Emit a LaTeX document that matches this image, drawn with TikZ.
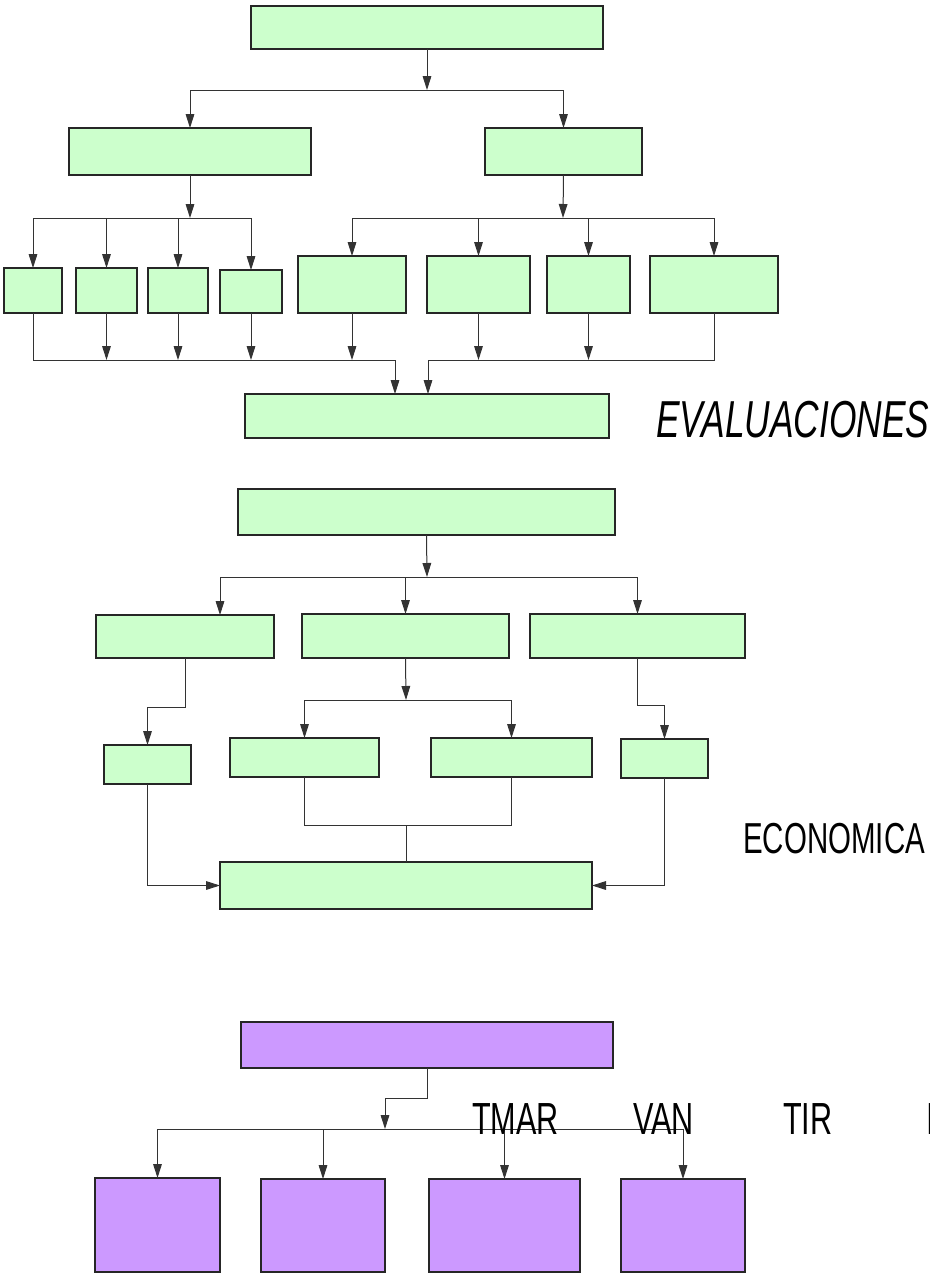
\documentclass[tikz,border=0pt]{standalone}
\usepackage{fontspec}
\usetikzlibrary{arrows.meta}
\newfontfamily\labelfont[FakeStretch=0.68]{Liberation Sans}
% box placed by its top-left and bottom-right corners (pixel grid)
\newcommand\cornerbox[6]{\node[#1, anchor=north west,
  minimum width={(#4-#2)*0.75pt}, minimum height={(#5-#3)*0.75pt}] (#6) at (#2,#3) {};}
\definecolor{gfill}{HTML}{CCFFCC}
\definecolor{pfill}{HTML}{CC99FF}
\tikzset{
  boxbase/.style={draw=black!85, line width=0.8pt, inner sep=0pt, outer sep=0pt},
  gbox/.style={boxbase, fill=gfill},
  pbox/.style={boxbase, fill=pfill},
  arr/.style={draw=black!80, line width=0.75pt, -{Triangle[length=10.5pt,width=6.5pt]}},
  ln/.style={draw=black!80, line width=0.75pt},
  bigtext/.style={anchor=base west, inner sep=0pt, font=\labelfont\fontsize{33.75pt}{40pt}\selectfont}
}
\begin{document}
\begin{tikzpicture}[x=0.75pt, y=-0.75pt]
\useasboundingbox (0,0) rectangle (930,1274);

% ---------- first tree ----------
\cornerbox{gbox}{251}{6}{603}{49}{T}
\cornerbox{gbox}{69}{128}{311}{175}{L}
\cornerbox{gbox}{485}{128}{642}{175}{R}
\cornerbox{gbox}{4}{268}{62}{313}{s1}
\cornerbox{gbox}{76}{268}{137}{313}{s2}
\cornerbox{gbox}{148}{268}{208}{313}{s3}
\cornerbox{gbox}{220}{270}{282}{313}{s4}
\cornerbox{gbox}{298}{256}{406}{313}{m1}
\cornerbox{gbox}{427}{256}{530}{313}{m2}
\cornerbox{gbox}{547}{256}{630}{313}{m3}
\cornerbox{gbox}{650}{256}{778}{313}{m4}
\cornerbox{gbox}{245}{394}{609}{438}{E}

\coordinate (j1) at (427,90);
\coordinate (j2) at (190,218);
\coordinate (j3) at (563,218);
\coordinate (k1) at (395,360);
\coordinate (k2) at (428,360);

\draw[arr] (T.south) -- (j1);
\draw[arr] (j1) -| (L.north);
\draw[arr] (j1) -| (R.north);

\draw[arr] (L.south) -- (j2);
\foreach \n in {s1,s2,s3,s4} \draw[arr] (j2) -| (\n.north);
\draw[arr] (R.south) -- (j3);
\foreach \n in {m1,m2,m3,m4} \draw[arr] (j3) -| (\n.north);

\draw[arr] (s1.south) |- (k1) -- (k1 |- E.north);
\foreach \n in {s2,s3,s4,m1} \draw[arr] (\n.south) -- (\n.south |- k1);
\draw[arr] (m4.south) |- (k2) -- (k2 |- E.north);
\foreach \n in {m2,m3} \draw[arr] (\n.south) -- (\n.south |- k2);

\node[bigtext, font=\labelfont\itshape\fontsize{39pt}{46pt}\selectfont] (evaluaciones) at (656,437) {EVALUACIONES};

% ---------- second tree ----------
\cornerbox{gbox}{238}{489}{615}{535}{T2}
\cornerbox{gbox}{96}{615}{274}{658}{A}
\cornerbox{gbox}{302}{614}{509}{658}{B}
\cornerbox{gbox}{530}{614}{745}{658}{C}
\cornerbox{gbox}{104}{745}{191}{784}{a1}
\cornerbox{gbox}{230}{738}{379}{777}{b1}
\cornerbox{gbox}{431}{738}{592}{777}{b2}
\cornerbox{gbox}{621}{739}{708}{778}{c1}
\cornerbox{gbox}{220}{862}{592}{909}{F}

\coordinate (j4) at (427,577);
\coordinate (xa) at (220,0);
\coordinate (j5) at (406,700);
\coordinate (j6) at (406,825);

\draw[arr] (T2.south) -- (j4);
\draw[arr] (j4) -| (A.north -| xa);
\draw[arr] (j4) -| (B.north);
\draw[arr] (j4) -| (C.north);

\draw[arr] (A.south) -- ++(0,49) -| (a1.north);
\draw[arr] (B.south) -- (j5);
\draw[arr] (j5) -| (b1.north);
\draw[arr] (j5) -| (b2.north);
\draw[arr] (C.south) -- ++(0,47) -| (c1.north);

\draw[ln] (b1.south) |- (j6) -| (b2.south);
\draw[ln] (j6) -- (j6 |- F.north);
\draw[arr] (a1.south) |- (F.west);
\draw[arr] (c1.south) |- (F.east);

\node[bigtext, font=\labelfont\fontsize{32.5pt}{38pt}\selectfont] (economica) at (743,853) {ECONOMICA};

% ---------- third tree ----------
\cornerbox{pbox}{241}{1022}{613}{1068}{P}
\cornerbox{pbox}{95}{1178}{220}{1272}{p1}
\cornerbox{pbox}{261}{1179}{385}{1272}{p2}
\cornerbox{pbox}{429}{1179}{580}{1272}{p3}
\cornerbox{pbox}{621}{1179}{745}{1272}{p4}

\coordinate (j7) at (385,1129);
\draw[arr] (P.south) -- ++(0,30) -| (j7);
\draw[ln] (p1.north |- j7) -- (p4.north |- j7);
\foreach \n in {p1,p2,p3,p4} \draw[arr] (\n.north |- j7) -- (\n.north);

\node[bigtext] (tmar) at (472,1134) {TMAR};
\node[bigtext] (van) at (633,1134) {VAN};
\node[bigtext] (tir) at (783,1134) {TIR};
\node[bigtext] (cut) at (926,1134) {I};
\end{tikzpicture}
\end{document}
